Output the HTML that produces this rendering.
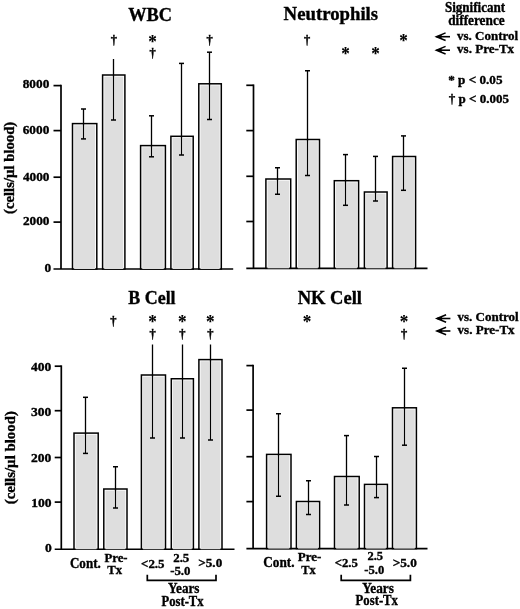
<!DOCTYPE html>
<html><head><meta charset="utf-8"><style>
html,body{margin:0;padding:0;background:#fff;}
body{width:520px;height:609px;overflow:hidden;}
svg{display:block;}
text{font-family:"Liberation Serif","Times New Roman",serif;font-weight:bold;fill:#000;stroke:#000;stroke-width:0.35px;}
.st{stroke-width:0.15px;}.dg{stroke-width:0.4px;}
</style></head><body>
<svg width="520" height="609" viewBox="0 0 520 609">
<text x="128.23" y="20.50" font-size="18.5" textLength="43.78" lengthAdjust="spacingAndGlyphs" class="h">WBC</text>
<line x1="61.0" y1="84.75" x2="61.0" y2="269.0" stroke="#000" stroke-width="1.7"/>
<line x1="53.5" y1="269.0" x2="233.2" y2="269.0" stroke="#000" stroke-width="1.7"/>
<line x1="53.5" y1="85.6" x2="61.0" y2="85.6" stroke="#000" stroke-width="1.7"/>
<line x1="53.5" y1="130.6" x2="61.0" y2="130.6" stroke="#000" stroke-width="1.7"/>
<line x1="53.5" y1="177.2" x2="61.0" y2="177.2" stroke="#000" stroke-width="1.7"/>
<line x1="53.5" y1="222.1" x2="61.0" y2="222.1" stroke="#000" stroke-width="1.7"/>
<text x="22.73" y="88.30" font-size="13.4" textLength="26.60" lengthAdjust="spacingAndGlyphs" class="l">8000</text>
<text x="22.73" y="133.80" font-size="13.4" textLength="26.60" lengthAdjust="spacingAndGlyphs" class="l">6000</text>
<text x="22.93" y="180.50" font-size="13.4" textLength="26.60" lengthAdjust="spacingAndGlyphs" class="l">4000</text>
<text x="22.93" y="225.40" font-size="13.4" textLength="26.60" lengthAdjust="spacingAndGlyphs" class="l">2000</text>
<text x="44.48" y="272.10" font-size="13.4" textLength="6.65" lengthAdjust="spacingAndGlyphs" class="l">0</text>
<rect x="72.5" y="123.6" width="24.30" height="145.40" fill="#fff" stroke="#000" stroke-width="1.5"/>
<rect x="74.15" y="125.25" width="21.00" height="143.75" fill="#dedede"/>
<line x1="83.5" y1="125.25" x2="83.5" y2="138.90" stroke="#fff" stroke-width="2.6"/>
<line x1="83.5" y1="109" x2="83.5" y2="138.9" stroke="#000" stroke-width="1.3"/>
<line x1="81.0" y1="109" x2="86.0" y2="109" stroke="#000" stroke-width="1.5"/>
<line x1="81.0" y1="138.9" x2="86.0" y2="138.9" stroke="#000" stroke-width="1.5"/>
<rect x="102.6" y="75" width="22.30" height="194.00" fill="#fff" stroke="#000" stroke-width="1.5"/>
<rect x="104.25" y="76.65" width="19.00" height="192.35" fill="#dedede"/>
<line x1="113.5" y1="76.65" x2="113.5" y2="120.00" stroke="#fff" stroke-width="2.6"/>
<line x1="113.5" y1="59" x2="113.5" y2="120" stroke="#000" stroke-width="1.3"/>
<line x1="111.0" y1="120" x2="116.0" y2="120" stroke="#000" stroke-width="1.5"/>
<rect x="140.6" y="145.6" width="24.80" height="123.40" fill="#fff" stroke="#000" stroke-width="1.5"/>
<rect x="142.25" y="147.25" width="21.50" height="121.75" fill="#dedede"/>
<line x1="151.5" y1="147.25" x2="151.5" y2="156.80" stroke="#fff" stroke-width="2.6"/>
<line x1="151.5" y1="115.8" x2="151.5" y2="156.8" stroke="#000" stroke-width="1.3"/>
<line x1="149.0" y1="115.8" x2="154.0" y2="115.8" stroke="#000" stroke-width="1.5"/>
<line x1="149.0" y1="156.8" x2="154.0" y2="156.8" stroke="#000" stroke-width="1.5"/>
<rect x="170.9" y="136.3" width="22.30" height="132.70" fill="#fff" stroke="#000" stroke-width="1.5"/>
<rect x="172.55" y="137.95" width="19.00" height="131.05" fill="#dedede"/>
<line x1="181.5" y1="137.95" x2="181.5" y2="155.00" stroke="#fff" stroke-width="2.6"/>
<line x1="181.5" y1="63.4" x2="181.5" y2="155" stroke="#000" stroke-width="1.3"/>
<line x1="179.0" y1="63.4" x2="184.0" y2="63.4" stroke="#000" stroke-width="1.5"/>
<line x1="179.0" y1="155" x2="184.0" y2="155" stroke="#000" stroke-width="1.5"/>
<rect x="198.8" y="83.8" width="22.50" height="185.20" fill="#fff" stroke="#000" stroke-width="1.5"/>
<rect x="200.45" y="85.45" width="19.20" height="183.55" fill="#dedede"/>
<line x1="209.5" y1="85.45" x2="209.5" y2="119.50" stroke="#fff" stroke-width="2.6"/>
<line x1="209.5" y1="52.2" x2="209.5" y2="119.5" stroke="#000" stroke-width="1.3"/>
<line x1="207.0" y1="52.2" x2="212.0" y2="52.2" stroke="#000" stroke-width="1.5"/>
<line x1="207.0" y1="119.5" x2="212.0" y2="119.5" stroke="#000" stroke-width="1.5"/>
<text x="110.79" y="44.37" font-size="13.0" textLength="6.22" lengthAdjust="spacingAndGlyphs" class="dg">†</text>
<text x="148.27" y="47.67" font-size="19.19" textLength="8.55" lengthAdjust="spacingAndGlyphs" class="st">*</text>
<text x="149.39" y="57.17" font-size="13.0" textLength="6.22" lengthAdjust="spacingAndGlyphs" class="dg">†</text>
<text x="206.49" y="44.37" font-size="13.0" textLength="6.22" lengthAdjust="spacingAndGlyphs" class="dg">†</text>
<text x="283.62" y="20.00" font-size="18.5" textLength="94.51" lengthAdjust="spacingAndGlyphs" class="h">Neutrophils</text>
<line x1="253.5" y1="84.45" x2="253.5" y2="268.3" stroke="#000" stroke-width="1.7"/>
<line x1="246.3" y1="268.3" x2="427.5" y2="268.3" stroke="#000" stroke-width="1.7"/>
<line x1="246.3" y1="85.3" x2="253.5" y2="85.3" stroke="#000" stroke-width="1.7"/>
<line x1="246.3" y1="130.6" x2="253.5" y2="130.6" stroke="#000" stroke-width="1.7"/>
<line x1="246.3" y1="176.3" x2="253.5" y2="176.3" stroke="#000" stroke-width="1.7"/>
<line x1="246.3" y1="221.5" x2="253.5" y2="221.5" stroke="#000" stroke-width="1.7"/>
<rect x="265.9" y="179" width="24.80" height="89.30" fill="#fff" stroke="#000" stroke-width="1.5"/>
<rect x="267.55" y="180.65" width="21.50" height="87.65" fill="#dedede"/>
<line x1="277.5" y1="180.65" x2="277.5" y2="194.25" stroke="#fff" stroke-width="2.6"/>
<line x1="277.5" y1="167.75" x2="277.5" y2="194.25" stroke="#000" stroke-width="1.3"/>
<line x1="275.0" y1="167.75" x2="280.0" y2="167.75" stroke="#000" stroke-width="1.5"/>
<line x1="275.0" y1="194.25" x2="280.0" y2="194.25" stroke="#000" stroke-width="1.5"/>
<rect x="296.2" y="139.5" width="23.30" height="128.80" fill="#fff" stroke="#000" stroke-width="1.5"/>
<rect x="297.85" y="141.15" width="20.00" height="127.15" fill="#dedede"/>
<line x1="307.5" y1="141.15" x2="307.5" y2="175.50" stroke="#fff" stroke-width="2.6"/>
<line x1="307.5" y1="70.75" x2="307.5" y2="175.5" stroke="#000" stroke-width="1.3"/>
<line x1="305.0" y1="70.75" x2="310.0" y2="70.75" stroke="#000" stroke-width="1.5"/>
<line x1="305.0" y1="175.5" x2="310.0" y2="175.5" stroke="#000" stroke-width="1.5"/>
<rect x="334.3" y="180.7" width="24.30" height="87.60" fill="#fff" stroke="#000" stroke-width="1.5"/>
<rect x="335.95" y="182.35" width="21.00" height="85.95" fill="#dedede"/>
<line x1="345.5" y1="182.35" x2="345.5" y2="205.30" stroke="#fff" stroke-width="2.6"/>
<line x1="345.5" y1="154.6" x2="345.5" y2="205.3" stroke="#000" stroke-width="1.3"/>
<line x1="343.0" y1="154.6" x2="348.0" y2="154.6" stroke="#000" stroke-width="1.5"/>
<line x1="343.0" y1="205.3" x2="348.0" y2="205.3" stroke="#000" stroke-width="1.5"/>
<rect x="364.4" y="192.0" width="22.70" height="76.30" fill="#fff" stroke="#000" stroke-width="1.5"/>
<rect x="366.05" y="193.65" width="19.40" height="74.65" fill="#dedede"/>
<line x1="375.5" y1="193.65" x2="375.5" y2="201.00" stroke="#fff" stroke-width="2.6"/>
<line x1="375.5" y1="156.4" x2="375.5" y2="201.0" stroke="#000" stroke-width="1.3"/>
<line x1="373.0" y1="156.4" x2="378.0" y2="156.4" stroke="#000" stroke-width="1.5"/>
<line x1="373.0" y1="201.0" x2="378.0" y2="201.0" stroke="#000" stroke-width="1.5"/>
<rect x="392.6" y="156.5" width="23.00" height="111.80" fill="#fff" stroke="#000" stroke-width="1.5"/>
<rect x="394.25" y="158.15" width="19.70" height="110.15" fill="#dedede"/>
<line x1="403.5" y1="158.15" x2="403.5" y2="190.30" stroke="#fff" stroke-width="2.6"/>
<line x1="403.5" y1="135.9" x2="403.5" y2="190.3" stroke="#000" stroke-width="1.3"/>
<line x1="401.0" y1="135.9" x2="406.0" y2="135.9" stroke="#000" stroke-width="1.5"/>
<line x1="401.0" y1="190.3" x2="406.0" y2="190.3" stroke="#000" stroke-width="1.5"/>
<text x="303.99" y="43.77" font-size="13.0" textLength="6.22" lengthAdjust="spacingAndGlyphs" class="dg">†</text>
<text x="341.17" y="59.67" font-size="19.19" textLength="8.55" lengthAdjust="spacingAndGlyphs" class="st">*</text>
<text x="371.37" y="59.67" font-size="19.19" textLength="8.55" lengthAdjust="spacingAndGlyphs" class="st">*</text>
<text x="399.27" y="47.27" font-size="19.19" textLength="8.55" lengthAdjust="spacingAndGlyphs" class="st">*</text>
<text x="444.88" y="12.00" font-size="14" textLength="60.34" lengthAdjust="spacingAndGlyphs" class="l">Significant</text>
<text x="448.17" y="25.00" font-size="14" textLength="56.53" lengthAdjust="spacingAndGlyphs" class="l">difference</text>
<text x="128.23" y="304.00" font-size="18.5" textLength="47.40" lengthAdjust="spacingAndGlyphs" class="h">B Cell</text>
<line x1="61.3" y1="365.34999999999997" x2="61.3" y2="549.25" stroke="#000" stroke-width="1.7"/>
<line x1="54.7" y1="549.25" x2="234.5" y2="549.25" stroke="#000" stroke-width="1.7"/>
<line x1="54.7" y1="366.2" x2="61.3" y2="366.2" stroke="#000" stroke-width="1.7"/>
<line x1="54.7" y1="410.7" x2="61.3" y2="410.7" stroke="#000" stroke-width="1.7"/>
<line x1="54.7" y1="457.5" x2="61.3" y2="457.5" stroke="#000" stroke-width="1.7"/>
<line x1="54.7" y1="502.1" x2="61.3" y2="502.1" stroke="#000" stroke-width="1.7"/>
<text x="31.00" y="371.00" font-size="13.4" textLength="20.35" lengthAdjust="spacingAndGlyphs" class="l">400</text>
<text x="31.00" y="415.80" font-size="13.4" textLength="20.35" lengthAdjust="spacingAndGlyphs" class="l">300</text>
<text x="31.00" y="462.40" font-size="13.4" textLength="20.35" lengthAdjust="spacingAndGlyphs" class="l">200</text>
<text x="31.20" y="507.40" font-size="13.4" textLength="20.35" lengthAdjust="spacingAndGlyphs" class="l">100</text>
<text x="44.96" y="552.40" font-size="13.4" textLength="6.78" lengthAdjust="spacingAndGlyphs" class="l">0</text>
<rect x="74.0" y="433.1" width="24.20" height="116.15" fill="#fff" stroke="#000" stroke-width="1.5"/>
<rect x="75.65" y="434.75" width="20.90" height="114.50" fill="#dedede"/>
<line x1="85.5" y1="434.75" x2="85.5" y2="453.40" stroke="#fff" stroke-width="2.6"/>
<line x1="85.5" y1="397.3" x2="85.5" y2="453.4" stroke="#000" stroke-width="1.3"/>
<line x1="83.0" y1="397.3" x2="88.0" y2="397.3" stroke="#000" stroke-width="1.5"/>
<line x1="83.0" y1="453.4" x2="88.0" y2="453.4" stroke="#000" stroke-width="1.5"/>
<rect x="103.8" y="489" width="23.20" height="60.25" fill="#fff" stroke="#000" stroke-width="1.5"/>
<rect x="105.45" y="490.65" width="19.90" height="58.60" fill="#dedede"/>
<line x1="115.5" y1="490.65" x2="115.5" y2="508.00" stroke="#fff" stroke-width="2.6"/>
<line x1="115.5" y1="466.75" x2="115.5" y2="508" stroke="#000" stroke-width="1.3"/>
<line x1="113.0" y1="466.75" x2="118.0" y2="466.75" stroke="#000" stroke-width="1.5"/>
<line x1="113.0" y1="508" x2="118.0" y2="508" stroke="#000" stroke-width="1.5"/>
<rect x="141.4" y="375" width="24.10" height="174.25" fill="#fff" stroke="#000" stroke-width="1.5"/>
<rect x="143.05" y="376.65" width="20.80" height="172.60" fill="#dedede"/>
<line x1="152.5" y1="376.65" x2="152.5" y2="438.00" stroke="#fff" stroke-width="2.6"/>
<line x1="152.5" y1="344.5" x2="152.5" y2="438" stroke="#000" stroke-width="1.3"/>
<line x1="150.0" y1="438" x2="155.0" y2="438" stroke="#000" stroke-width="1.5"/>
<rect x="171.3" y="378.75" width="22.10" height="170.50" fill="#fff" stroke="#000" stroke-width="1.5"/>
<rect x="172.95" y="380.40" width="18.80" height="168.85" fill="#dedede"/>
<line x1="182.5" y1="380.40" x2="182.5" y2="438.00" stroke="#fff" stroke-width="2.6"/>
<line x1="182.5" y1="344.5" x2="182.5" y2="438" stroke="#000" stroke-width="1.3"/>
<line x1="180.0" y1="438" x2="185.0" y2="438" stroke="#000" stroke-width="1.5"/>
<rect x="198.9" y="359.6" width="23.10" height="189.65" fill="#fff" stroke="#000" stroke-width="1.5"/>
<rect x="200.55" y="361.25" width="19.80" height="188.00" fill="#dedede"/>
<line x1="210.5" y1="361.25" x2="210.5" y2="440.00" stroke="#fff" stroke-width="2.6"/>
<line x1="210.5" y1="344.5" x2="210.5" y2="440" stroke="#000" stroke-width="1.3"/>
<line x1="208.0" y1="440" x2="213.0" y2="440" stroke="#000" stroke-width="1.5"/>
<text x="110.19" y="325.17" font-size="13.0" textLength="6.22" lengthAdjust="spacingAndGlyphs" class="dg">†</text>
<text x="148.37" y="328.27" font-size="19.19" textLength="8.55" lengthAdjust="spacingAndGlyphs" class="st">*</text>
<text x="149.49" y="338.17" font-size="13.0" textLength="6.22" lengthAdjust="spacingAndGlyphs" class="dg">†</text>
<text x="178.07" y="328.27" font-size="19.19" textLength="8.55" lengthAdjust="spacingAndGlyphs" class="st">*</text>
<text x="179.19" y="338.17" font-size="13.0" textLength="6.22" lengthAdjust="spacingAndGlyphs" class="dg">†</text>
<text x="206.07" y="328.27" font-size="19.19" textLength="8.55" lengthAdjust="spacingAndGlyphs" class="st">*</text>
<text x="207.19" y="338.17" font-size="13.0" textLength="6.22" lengthAdjust="spacingAndGlyphs" class="dg">†</text>
<text x="297.63" y="303.70" font-size="18.5" textLength="64.38" lengthAdjust="spacingAndGlyphs" class="h">NK Cell</text>
<line x1="253.1" y1="364.75" x2="253.1" y2="548.6" stroke="#000" stroke-width="1.7"/>
<line x1="246.4" y1="548.6" x2="427.5" y2="548.6" stroke="#000" stroke-width="1.7"/>
<line x1="246.4" y1="365.6" x2="253.1" y2="365.6" stroke="#000" stroke-width="1.7"/>
<line x1="246.4" y1="410.1" x2="253.1" y2="410.1" stroke="#000" stroke-width="1.7"/>
<line x1="246.4" y1="456.7" x2="253.1" y2="456.7" stroke="#000" stroke-width="1.7"/>
<line x1="246.4" y1="501.6" x2="253.1" y2="501.6" stroke="#000" stroke-width="1.7"/>
<rect x="266.6" y="454.4" width="24.40" height="94.20" fill="#fff" stroke="#000" stroke-width="1.5"/>
<rect x="268.25" y="456.05" width="21.10" height="92.55" fill="#dedede"/>
<line x1="278.5" y1="456.05" x2="278.5" y2="496.25" stroke="#fff" stroke-width="2.6"/>
<line x1="278.5" y1="413.75" x2="278.5" y2="496.25" stroke="#000" stroke-width="1.3"/>
<line x1="276.0" y1="413.75" x2="281.0" y2="413.75" stroke="#000" stroke-width="1.5"/>
<line x1="276.0" y1="496.25" x2="281.0" y2="496.25" stroke="#000" stroke-width="1.5"/>
<rect x="296.4" y="501.5" width="23.20" height="47.10" fill="#fff" stroke="#000" stroke-width="1.5"/>
<rect x="298.05" y="503.15" width="19.90" height="45.45" fill="#dedede"/>
<line x1="308.5" y1="503.15" x2="308.5" y2="514.50" stroke="#fff" stroke-width="2.6"/>
<line x1="308.5" y1="480.75" x2="308.5" y2="514.5" stroke="#000" stroke-width="1.3"/>
<line x1="306.0" y1="480.75" x2="311.0" y2="480.75" stroke="#000" stroke-width="1.5"/>
<line x1="306.0" y1="514.5" x2="311.0" y2="514.5" stroke="#000" stroke-width="1.5"/>
<rect x="334.5" y="476.5" width="24.70" height="72.10" fill="#fff" stroke="#000" stroke-width="1.5"/>
<rect x="336.15" y="478.15" width="21.40" height="70.45" fill="#dedede"/>
<line x1="346.5" y1="478.15" x2="346.5" y2="505.00" stroke="#fff" stroke-width="2.6"/>
<line x1="346.5" y1="435.6" x2="346.5" y2="505" stroke="#000" stroke-width="1.3"/>
<line x1="344.0" y1="435.6" x2="349.0" y2="435.6" stroke="#000" stroke-width="1.5"/>
<line x1="344.0" y1="505" x2="349.0" y2="505" stroke="#000" stroke-width="1.5"/>
<rect x="364.5" y="484.4" width="22.90" height="64.20" fill="#fff" stroke="#000" stroke-width="1.5"/>
<rect x="366.15" y="486.05" width="19.60" height="62.55" fill="#dedede"/>
<line x1="376.5" y1="486.05" x2="376.5" y2="497.60" stroke="#fff" stroke-width="2.6"/>
<line x1="376.5" y1="456.5" x2="376.5" y2="497.6" stroke="#000" stroke-width="1.3"/>
<line x1="374.0" y1="456.5" x2="379.0" y2="456.5" stroke="#000" stroke-width="1.5"/>
<line x1="374.0" y1="497.6" x2="379.0" y2="497.6" stroke="#000" stroke-width="1.5"/>
<rect x="392.5" y="407.8" width="23.90" height="140.80" fill="#fff" stroke="#000" stroke-width="1.5"/>
<rect x="394.15" y="409.45" width="20.60" height="139.15" fill="#dedede"/>
<line x1="404.5" y1="409.45" x2="404.5" y2="445.20" stroke="#fff" stroke-width="2.6"/>
<line x1="404.5" y1="368.25" x2="404.5" y2="445.2" stroke="#000" stroke-width="1.3"/>
<line x1="402.0" y1="368.25" x2="407.0" y2="368.25" stroke="#000" stroke-width="1.5"/>
<line x1="402.0" y1="445.2" x2="407.0" y2="445.2" stroke="#000" stroke-width="1.5"/>
<text x="302.87" y="327.77" font-size="19.19" textLength="8.55" lengthAdjust="spacingAndGlyphs" class="st">*</text>
<text x="399.87" y="327.77" font-size="19.19" textLength="8.55" lengthAdjust="spacingAndGlyphs" class="st">*</text>
<text x="400.99" y="337.67" font-size="13.0" textLength="6.22" lengthAdjust="spacingAndGlyphs" class="dg">†</text>
<line x1="436.6" y1="36.7" x2="450" y2="36.7" stroke="#000" stroke-width="1.6"/>
<polyline points="445.6,32.900000000000006 436.40000000000003,36.7 445.6,40.5" fill="none" stroke="#000" stroke-width="1.5" stroke-linejoin="miter"/>
<polygon points="435.6,36.7 441.6,34.7 441.6,38.7" fill="#000"/>
<text x="457.00" y="40.30" font-size="13.5" textLength="61.25" lengthAdjust="spacingAndGlyphs" class="l">vs. Control</text>
<line x1="436.6" y1="50.2" x2="450" y2="50.2" stroke="#000" stroke-width="1.6"/>
<polyline points="445.6,46.400000000000006 436.40000000000003,50.2 445.6,54.0" fill="none" stroke="#000" stroke-width="1.5" stroke-linejoin="miter"/>
<polygon points="435.6,50.2 441.6,48.2 441.6,52.2" fill="#000"/>
<text x="457.00" y="53.00" font-size="13.5" textLength="57.16" lengthAdjust="spacingAndGlyphs" class="l">vs. Pre-Tx</text>
<line x1="437.1" y1="318.5" x2="450.4" y2="318.5" stroke="#000" stroke-width="1.6"/>
<polyline points="446.1,314.7 436.90000000000003,318.5 446.1,322.3" fill="none" stroke="#000" stroke-width="1.5" stroke-linejoin="miter"/>
<polygon points="436.1,318.5 442.1,316.5 442.1,320.5" fill="#000"/>
<text x="457.50" y="321.30" font-size="13.5" textLength="61.15" lengthAdjust="spacingAndGlyphs" class="l">vs. Control</text>
<line x1="437.1" y1="331.0" x2="450.4" y2="331.0" stroke="#000" stroke-width="1.6"/>
<polyline points="446.1,327.2 436.90000000000003,331.0 446.1,334.8" fill="none" stroke="#000" stroke-width="1.5" stroke-linejoin="miter"/>
<polygon points="436.1,331.0 442.1,329.0 442.1,333.0" fill="#000"/>
<text x="457.50" y="334.00" font-size="13.5" textLength="57.16" lengthAdjust="spacingAndGlyphs" class="l">vs. Pre-Tx</text>
<text x="448.17" y="84.40" font-size="13.5" textLength="54.40" lengthAdjust="spacingAndGlyphs" class="l">* p &lt; 0.05</text>
<text x="448.87" y="102.80" font-size="13.5" textLength="60.14" lengthAdjust="spacingAndGlyphs" class="l">† p &lt; 0.005</text>
<text x="69.95" y="568.10" font-size="14.5" textLength="30.86" lengthAdjust="spacingAndGlyphs" class="l">Cont.</text>
<text x="104.51" y="561.70" font-size="13.5" textLength="23.08" lengthAdjust="spacingAndGlyphs" class="l">Pre-</text>
<text x="107.31" y="574.30" font-size="13.5" textLength="14.88" lengthAdjust="spacingAndGlyphs" class="l">Tx</text>
<text x="141.05" y="567.60" font-size="13.5" textLength="23.50" lengthAdjust="spacingAndGlyphs" class="l">&lt;2.5</text>
<text x="173.18" y="561.90" font-size="13.5" textLength="16.17" lengthAdjust="spacingAndGlyphs" class="l">2.5</text>
<text x="170.15" y="574.50" font-size="13.5" textLength="20.34" lengthAdjust="spacingAndGlyphs" class="l">-5.0</text>
<text x="198.34" y="567.20" font-size="13.5" textLength="23.88" lengthAdjust="spacingAndGlyphs" class="l">&gt;5.0</text>
<text x="168.04" y="592.90" font-size="14" textLength="31.47" lengthAdjust="spacingAndGlyphs" class="l">Years</text>
<text x="161.51" y="605.70" font-size="14" textLength="42.08" lengthAdjust="spacingAndGlyphs" class="l">Post-Tx</text>
<text x="263.24" y="567.40" font-size="14.5" textLength="31.28" lengthAdjust="spacingAndGlyphs" class="l">Cont.</text>
<text x="297.70" y="560.80" font-size="13.5" textLength="23.60" lengthAdjust="spacingAndGlyphs" class="l">Pre-</text>
<text x="301.31" y="573.50" font-size="13.5" textLength="14.47" lengthAdjust="spacingAndGlyphs" class="l">Tx</text>
<text x="334.76" y="567.10" font-size="13.5" textLength="23.18" lengthAdjust="spacingAndGlyphs" class="l">&lt;2.5</text>
<text x="367.40" y="560.40" font-size="13.5" textLength="15.64" lengthAdjust="spacingAndGlyphs" class="l">2.5</text>
<text x="364.36" y="573.70" font-size="13.5" textLength="19.92" lengthAdjust="spacingAndGlyphs" class="l">-5.0</text>
<text x="392.64" y="567.10" font-size="13.5" textLength="24.19" lengthAdjust="spacingAndGlyphs" class="l">&gt;5.0</text>
<text x="362.18" y="592.50" font-size="14" textLength="31.67" lengthAdjust="spacingAndGlyphs" class="l">Years</text>
<text x="355.61" y="605.10" font-size="14" textLength="42.33" lengthAdjust="spacingAndGlyphs" class="l">Post-Tx</text>
<polyline points="147.3,574.7 147.3,580.3 216.0,580.3 216.0,574.7" fill="none" stroke="#000" stroke-width="1.7"/>
<polyline points="341.2,574.7 341.2,580.3 410.4,580.3 410.4,574.7" fill="none" stroke="#000" stroke-width="1.7"/>
<g transform="translate(14.3,0) rotate(-90)"><text x="-213.96" y="0.00" font-size="14" textLength="92.23" lengthAdjust="spacingAndGlyphs" class="l">(cells/µl blood)</text></g>
<g transform="translate(14.8,0) rotate(-90)"><text x="-504.17" y="0.00" font-size="14" textLength="93.04" lengthAdjust="spacingAndGlyphs" class="l">(cells/µl blood)</text></g>
</svg>
</body></html>
